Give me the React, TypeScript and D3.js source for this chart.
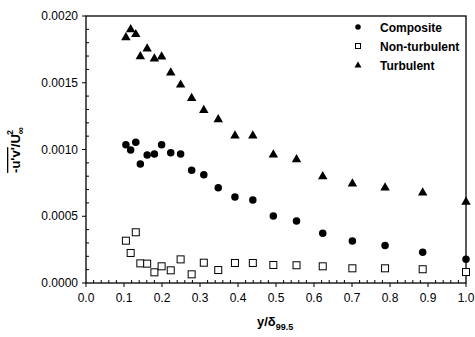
import React from "react";
import * as d3 from "d3";

// Wall-normal position y/δ99.5 of each measurement station
const positions = [
  0.105, 0.1175, 0.131, 0.143, 0.161, 0.18, 0.199, 0.223, 0.249, 0.278, 0.31,
  0.348, 0.392, 0.439, 0.493, 0.554, 0.623, 0.701, 0.787, 0.886, 1.0,
];

// Reynolds shear stress -u'v'/U∞² for each conditional average
const composite = [
  0.001036, 0.000996, 0.001054, 0.000891, 0.000959, 0.000966, 0.001036,
  0.000976, 0.000966, 0.000844, 0.000811, 0.000714, 0.000644, 0.000622,
  0.000502, 0.000464, 0.000372, 0.000315, 0.00028, 0.00023, 0.000177,
];
const nonTurbulent = [
  0.000317, 0.000225, 0.00038, 0.000147, 0.000145, 0.00008, 0.000125,
  0.000095, 0.000177, 0.000065, 0.000152, 0.000097, 0.00015, 0.00015,
  0.000135, 0.000133, 0.000125, 0.00011, 0.00011, 0.000103, 0.000082,
];
const turbulent = [
  0.001845, 0.001905, 0.001868, 0.001703, 0.00176, 0.001685, 0.0017,
  0.00158, 0.00149, 0.00139, 0.0013, 0.00123, 0.001109, 0.001109, 0.000966,
  0.000931, 0.000804, 0.000749, 0.000719, 0.000682, 0.000612,
];

const xTicks = [0, 0.1, 0.2, 0.3, 0.4, 0.5, 0.6, 0.7, 0.8, 0.9, 1.0];
const yTicks = [0, 0.0005, 0.001, 0.0015, 0.002];
const legendLabels = ["Composite", "Non-turbulent", "Turbulent"];

const W = 475;
const H = 337;
const M = { left: 86, right: 466, top: 16, bottom: 283 };

const FONT = "Liberation Sans, Arial, sans-serif";

function Marker({ kind, x, y, s }: { kind: string; x: number; y: number; s: number }) {
  if (kind === "circle") return <circle cx={x} cy={y} r={s / 2} fill="#000" />;
  if (kind === "square")
    return (
      <rect
        x={x - s / 2}
        y={y - s / 2}
        width={s}
        height={s}
        fill="#fff"
        stroke="#000"
        strokeWidth={1}
      />
    );
  const tri = d3.symbol().type(d3.symbolTriangle).size(s * s * 0.43)();
  return <path d={tri ?? ""} transform={`translate(${x},${y + s * 0.08})`} fill="#000" />;
}

export default function App() {
  const x = d3.scaleLinear().domain([0, 1]).range([M.left, M.right]);
  const y = d3.scaleLinear().domain([0, 0.002]).range([M.bottom, M.top]);

  const xMinor = d3
    .range(0, 50)
    .map((i) => i * 0.02)
    .filter((v) => Math.abs(v * 10 - Math.round(v * 10)) > 1e-6);
  const yMinor = d3
    .range(0, 20)
    .map((i) => i * 0.0001)
    .filter((v, i) => i % 5 !== 0);

  const series = [
    { kind: "circle", values: composite, size: 7.5 },
    { kind: "square", values: nonTurbulent, size: 7 },
    { kind: "triangle", values: turbulent, size: 9.5 },
  ];
  const legendKinds = ["circle", "square", "triangle"];
  const legendSizes = [5.5, 5, 7];

  return (
    <svg width={W} height={H} style={{ position: "absolute", left: 0, top: 0, background: "#fff" }}>
      <rect x={0} y={0} width={W} height={H} fill="#fff" />
      {/* frame */}
      <rect
        x={M.left}
        y={M.top}
        width={M.right - M.left}
        height={M.bottom - M.top}
        fill="none"
        stroke="#000"
        strokeWidth={1.3}
      />
      {/* x axis ticks */}
      {xTicks.map((t) => (
        <g key={`xt${t}`}>
          <line x1={x(t)} x2={x(t)} y1={M.bottom} y2={M.bottom + 4} stroke="#000" />
          <text
            x={x(t)}
            y={M.bottom + 19}
            textAnchor="middle"
            fontFamily={FONT}
            fontSize={12}
            fill="#000"
          >
            {d3.format(".1f")(t)}
          </text>
        </g>
      ))}
      {xMinor.map((t) => (
        <line key={`xm${t}`} x1={x(t)} x2={x(t)} y1={M.bottom} y2={M.bottom - 3} stroke="#000" />
      ))}
      {/* y axis ticks */}
      {yTicks.map((t) => (
        <g key={`yt${t}`}>
          <line x1={M.left - 4} x2={M.left} y1={y(t)} y2={y(t)} stroke="#000" />
          <text
            x={M.left - 8}
            y={y(t) + 4}
            textAnchor="end"
            fontFamily={FONT}
            fontSize={12}
            fill="#000"
          >
            {d3.format(".4f")(t)}
          </text>
        </g>
      ))}
      {yMinor.map((t) => (
        <line key={`ym${t}`} x1={M.left} x2={M.left + 3} y1={y(t)} y2={y(t)} stroke="#000" />
      ))}
      {/* data */}
      {series.map((s) =>
        s.values.map((v, i) => (
          <Marker key={`${s.kind}${i}`} kind={s.kind} x={x(positions[i])} y={y(v)} s={s.size} />
        ))
      )}
      {/* legend */}
      {legendLabels.map((label, i) => (
        <g key={label}>
          <Marker kind={legendKinds[i]} x={358} y={27 + i * 19} s={legendSizes[i]} />
          <text
            x={380}
            y={27 + i * 19 + 4.5}
            fontFamily={FONT}
            fontSize={12}
            fontWeight="bold"
            fill="#000"
          >
            {label}
          </text>
        </g>
      ))}
      {/* axis titles */}
      <text x={257} y={326} fontFamily={FONT} fontSize={13} fontWeight="bold" fill="#000">
        y/δ
        <tspan fontSize={9} dy={4}>
          99.5
        </tspan>
      </text>
      <g transform="translate(20,150) rotate(-90)">
        <text textAnchor="middle" fontFamily={FONT} fontSize={13} fontWeight="bold" fill="#000">
          <tspan textDecoration="overline">-u'v'</tspan>
          /U
          <tspan fontSize={10} dy={4}>
            ∞
          </tspan>
          <tspan fontSize={9} dx={-8} dy={-11}>
            2
          </tspan>
        </text>
      </g>
    </svg>
  );
}
